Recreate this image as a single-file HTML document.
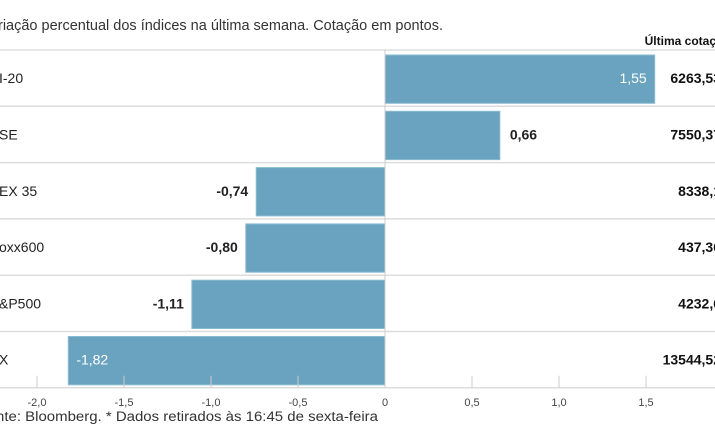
<!DOCTYPE html>
<html><head><meta charset="utf-8"><style>
html,body{margin:0;padding:0;background:#fff;width:715px;height:445px;overflow:hidden}
svg{display:block;font-family:"Liberation Sans",sans-serif}
</style></head><body>
<svg width="715" height="445" id="chart">
<text x="-2" y="30" font-size="15" fill="#333" textLength="445" lengthAdjust="spacingAndGlyphs">riação percentual dos índices na última semana. Cotação em pontos.</text>
<text x="716" y="45" font-size="12" font-weight="bold" fill="#111" text-anchor="end">Última cotaç</text>
<text x="-4" y="421" font-size="13.5" fill="#333" textLength="382" lengthAdjust="spacingAndGlyphs">nte: Bloomberg.  * Dados retirados às 16:45 de sexta-feira</text>
</svg>
<script>
const categories=["I-20","SE","EX 35","oxx600","&P500","X"];
const values=[1.55,0.66,-0.74,-0.80,-1.11,-1.82];
const quotes=["6263,53","7550,37","8338,1","437,36","4232,6","13544,52"];
const tickValues=[-2,-1.5,-1,-0.5,0,0.5,1,1.5];
const tickLabels=["-2,0","-1,5","-1,0","-0,5","0","0,5","1,0","1,5"];
const NS="http://www.w3.org/2000/svg";
const svg=document.getElementById('chart');
const x0=385,ppu=174,top0=50,pitch=56.3;
const xs=v=>x0+v*ppu;
function mk(t,a){const e=document.createElementNS(NS,t);for(const k in a)e.setAttribute(k,a[k]);svg.appendChild(e);return e;}
const fmt=v=>v.toFixed(2).replace('.',',');
for(let i=0;i<=categories.length;i++){
 const g=mk('line',{x1:0,x2:715,y1:top0+i*pitch,y2:top0+i*pitch,stroke:'#ddd','stroke-width':1.5});
 
 
}
categories.forEach((c,i)=>{
 const y=top0+i*pitch;
 const v=values[i];
 const xa=Math.min(xs(0),xs(v)),w=Math.abs(xs(v)-xs(0));
 const b=mk('rect',{x:xa,y:y+5,width:w,height:pitch-8,fill:'#6aa3bf',stroke:'#8bbbd0','stroke-width':1});
 
 
 const l=mk('text',{x:-1,y:y+pitch/2+5,'font-size':14,fill:'#222'});
 l.textContent=c;
 
 
 const inside=Math.abs(v)>1.4;
 let tx,anchor,col;
 if(inside){col='#fff';if(v>0){tx=xs(v)-8;anchor='end';}else{tx=xs(v)+8;anchor='start';}}
 else{col='#222';if(v>0){tx=xs(v)+10;anchor='start';}else{tx=xs(v)-8;anchor='end';}}
 const vl=mk('text',{x:tx,y:y+pitch/2+5,'font-size':14,'font-weight':inside?'normal':'bold',fill:col,'text-anchor':anchor});
 vl.textContent=fmt(v);
 
 
 const q=mk('text',{x:721,y:y+pitch/2+5,'font-size':14,'font-weight':'bold',fill:'#111','text-anchor':'end'});
 q.textContent=quotes[i];
 
 
});
const z=mk('line',{x1:x0,x2:x0,y1:top0,y2:top0+categories.length*pitch,stroke:'#ccc','stroke-width':1});


const axisY=top0+categories.length*pitch;
tickValues.forEach((t,i)=>{
 const tk=mk('line',{x1:xs(t),x2:xs(t),y1:axisY-12,y2:axisY,stroke:'#ccc','stroke-width':1});
 
 
 const tl=mk('text',{x:xs(t),y:axisY+18,'font-size':11,fill:'#444','text-anchor':'middle'});
 tl.textContent=tickLabels[i];
 
 
});
</script>
</body></html>
